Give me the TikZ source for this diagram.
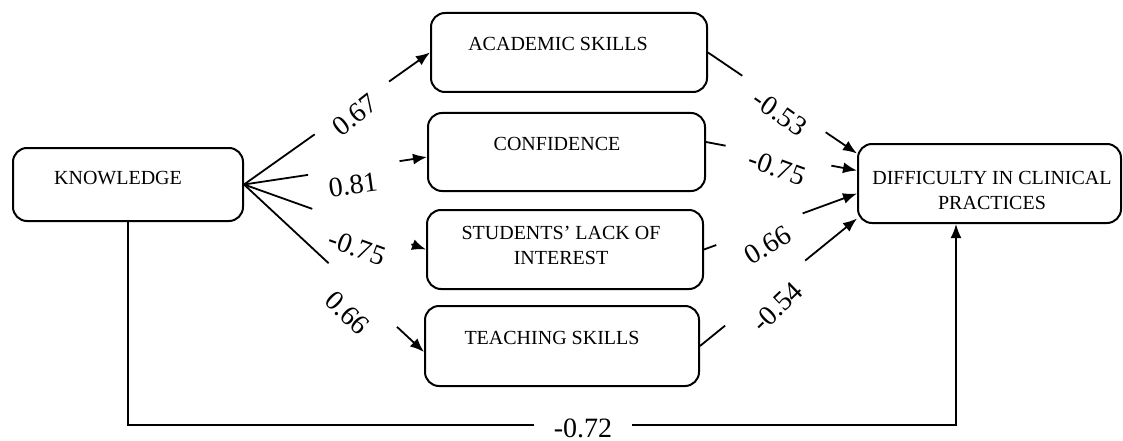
\documentclass[tikz,border=0pt]{standalone}
\usepackage{fontspec}
\setmainfont{Liberation Serif}
\usetikzlibrary{calc,arrows.meta}
\begin{document}
\begin{tikzpicture}[x=1pt,y=-1pt,
  box/.style={draw,line width=2pt,rounded corners=14pt,inner sep=0pt},
  btxt/.style={font=\fontsize{20}{25}\selectfont,align=center,inner sep=0pt},
  lbl/.style={font=\fontsize{28}{30}\selectfont,inner sep=0pt},
  conn/.style={line width=1.8pt},
  arr/.style={line width=1.8pt,-{Latex[length=14pt,width=11pt]}}]
\useasboundingbox (0,0) rectangle (1123,441);
% boxes
\node[box,minimum width=230pt,minimum height=73pt] (K) at (128,184.5) {};
\node[box,minimum width=276pt,minimum height=79pt] (A) at (569,52.5) {};
\node[box,minimum width=277pt,minimum height=78pt] (C) at (566.5,152) {};
\node[box,minimum width=276pt,minimum height=79pt] (S) at (565,249.5) {};
\node[box,minimum width=274pt,minimum height=80pt] (T) at (562,346) {};
\node[box,minimum width=263pt,minimum height=79pt] (D) at (989.5,183.5) {};
% box texts
\node[btxt] (tK) at (118,178) {KNOWLEDGE};
\node[btxt] (tA) at (558,44) {ACADEMIC SKILLS};
\node[btxt] (tC) at (557,144) {CONFIDENCE};
\node[btxt] (tS) at (561,245) {STUDENTS’ LACK OF\\INTEREST};
\node[btxt] (tT) at (552,338) {TEACHING SKILLS};
\node[btxt] (tD) at (992,190.5) {DIFFICULTY IN CLINICAL\\PRACTICES};
% left connectors
\draw[conn] (K.east) -- ($(K.east)!0.38!(A.west)$);
\draw[arr] ($(K.east)!0.78!(A.west)$) -- (A.west);
\draw[conn] (K.east) -- ($(K.east)!0.35!([yshift=-5pt]C.west)$);
\draw[arr] ($(K.east)!0.85!([yshift=-5pt]C.west)$) -- ([yshift=-5pt]C.west);
\draw[conn] (K.east) -- ($(K.east)!0.375!(S.west)$);
\draw[arr] ($(K.east)!0.92!(S.west)$) -- (S.west);
\draw[conn] (K.east) -- ($(K.east)!0.47!([yshift=-6pt]T.west)$);
\draw[arr] ($(K.east)!0.85!([yshift=-6pt]T.west)$) -- ([yshift=-6pt]T.west);
% right connectors
\draw[conn] (A.east) -- ($(A.east)!0.23!([yshift=30pt]D.west)$);
\draw[arr] ($(A.east)!0.79!([yshift=30pt]D.west)$) -- ([yshift=30pt]D.west);
\draw[conn] ([yshift=10pt]C.east) -- ($([yshift=10pt]C.east)!0.13!([yshift=13pt]D.west)$);
\draw[arr] ($([yshift=10pt]C.east)!0.83!([yshift=13pt]D.west)$) -- ([yshift=13pt]D.west);
\draw[conn] (S.east) -- ($(S.east)!0.08!([yshift=-10pt]D.west)$);
\draw[arr] ($(S.east)!0.645!([yshift=-10pt]D.west)$) -- ([yshift=-10pt]D.west);
\draw[conn] (T.east) -- ($(T.east)!0.16!([yshift=-35pt]D.west)$);
\draw[arr] ($(T.east)!0.67!([yshift=-35pt]D.west)$) -- ([yshift=-35pt]D.west);
% bottom connector
\coordinate (bot) at (956,425);
\draw[arr] (K.south) |- (bot) -- ([xshift=-33.5pt]D.south);
\node[lbl,fill=white,inner xsep=20pt,inner ysep=2pt] (l9) at (583,428) {-0.72};
% labels
\node[lbl,rotate=38] (l1) at (355,115) {0.67};
\node[lbl,rotate=8] (l2) at (353,185) {0.81};
\node[lbl,rotate=-20] (l3) at (357,248) {-0.75};
\node[lbl,rotate=-44] (l4) at (347,313) {0.66};
\node[lbl,rotate=-35] (l5) at (780,113) {-0.53};
\node[lbl,rotate=-20] (l6) at (777,168) {-0.75};
\node[lbl,rotate=31] (l7) at (768,245) {0.66};
\node[lbl,rotate=44] (l8) at (777,307) {-0.54};
\end{tikzpicture}
\end{document}
